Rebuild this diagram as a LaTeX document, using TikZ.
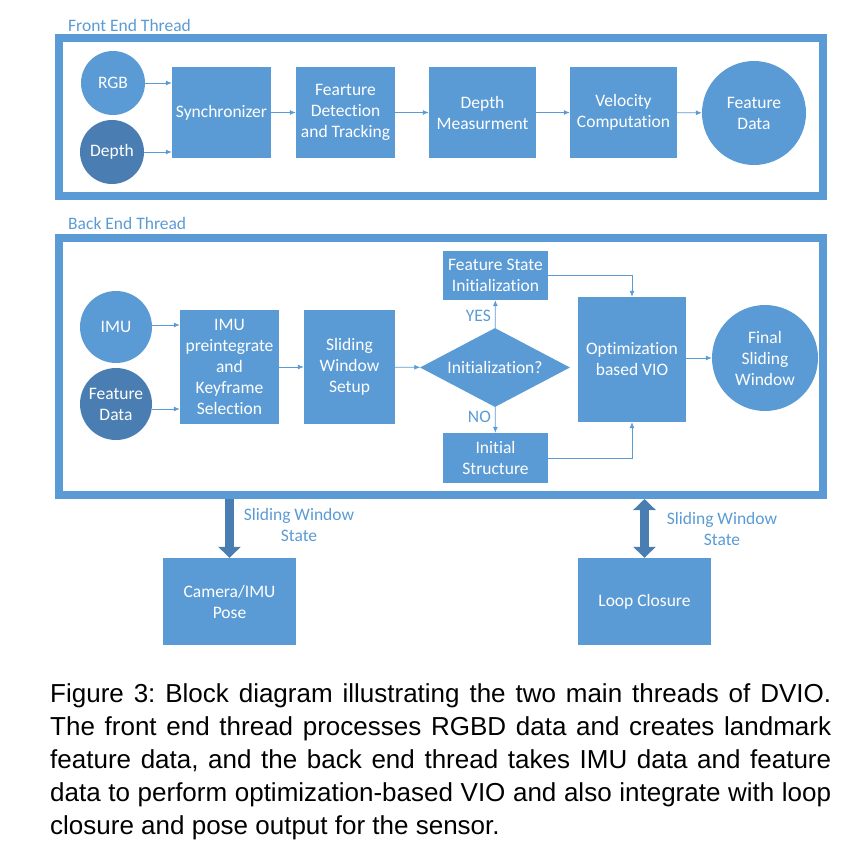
\documentclass[tikz,border=0pt]{standalone}
\usepackage{fontspec}
\setmainfont{Carlito}[Ligatures=NoCommon]
\newfontfamily\capfont{Liberation Sans}
\usetikzlibrary{shapes.geometric,arrows.meta}
\definecolor{boxblue}{HTML}{5B9BD5}
\definecolor{darkblue}{HTML}{4A7EB3}
\newcommand{\capline}[1]{\makebox[781pt][s]{#1}}
\frenchspacing
\begin{document}
\begin{tikzpicture}[x=1pt, y=-1pt,
  blk/.style={fill=boxblue, text=white, align=center, inner sep=0pt, font=\fontsize{17.5}{21}\selectfont},
  dot/.style={blk, circle},
  dkdot/.style={blk, circle, fill=darkblue},
  frame/.style={draw=boxblue, line width=8pt, inner sep=0pt},
  lbl/.style={text=boxblue, inner sep=0pt, font=\fontsize{17.5}{21}\selectfont},
  flow/.style={draw=boxblue, line width=0.8pt, -{Latex[length=6pt,width=5pt]}},
  fat/.style={draw=darkblue, line width=9pt, -{Triangle[width=22pt,length=11pt]}}]
\useasboundingbox (0,0) rectangle (845,857);
% the two thread frames
\node[frame, minimum width=764pt, minimum height=158pt] (front) at (441,117) {};
\node[frame, minimum width=764pt, minimum height=257pt] (back) at (441,366.5) {};
\node[lbl, anchor=west] (frontlbl) at (68,25) {Front End Thread};
\node[lbl, anchor=west] (backlbl) at (68,223) {Back End Thread};
% front end nodes
\node[dot, minimum size=64pt] (rgb) at (113,83) {RGB};
\node[dkdot, minimum size=64pt] (depth) at (112,152) {Depth};
\node[blk, minimum width=99pt, minimum height=91pt] (sync) at (221.5,112.5) {Synchronizer};
\node[blk, minimum width=99pt, minimum height=91pt] (detect) at (345.5,112.5) {Fearture\\Detection\\and Tracking};
\node[blk, minimum width=107pt, minimum height=91pt] (depthm) at (482.5,112.5) {Depth\\Measurment};
\node[blk, minimum width=107pt, minimum height=91pt] (velo) at (623.5,112.5) {Velocity\\Computation};
\node[dot, minimum size=104pt] (featdata) at (754,113) {Feature\\Data};
% front end arrows
\draw[flow] (rgb.east) -- (rgb.east -| sync.west);
\draw[flow] (depth.east) -- (depth.east -| sync.west);
\draw[flow] (sync) -- (detect);
\draw[flow] (detect) -- (depthm);
\draw[flow] (depthm) -- (velo);
\draw[flow] (velo) -- (featdata);
% back end nodes
\node[dot, minimum size=72pt] (imu) at (116,327) {IMU};
\node[dkdot, minimum size=72pt] (featin) at (116,404) {Feature\\Data};
\node[blk, minimum width=99pt, minimum height=114pt] (preint) at (229.5,367) {IMU\\preintegrate\\and\\Keyframe\\Selection};
\node[blk, minimum width=91pt, minimum height=114pt] (swsetup) at (349.5,367) {Sliding\\Window\\Setup};
\node[blk, diamond, aspect=1.9, minimum width=150pt, minimum height=79pt] (init) at (495,367.5) {Initialization?};
\node[blk, minimum width=105pt, minimum height=49pt] (fsinit) at (495.5,275.5) {Feature State\\Initialization};
\node[blk, minimum width=105pt, minimum height=50pt] (initstruct) at (495.5,458) {Initial\\Structure};
\node[blk, minimum width=108pt, minimum height=125pt] (optvio) at (632,359.5) {Optimization\\based VIO};
\node[dot, minimum size=106pt] (finalsw) at (765,358) {Final\\Sliding\\Window};
% back end arrows
\draw[flow] (imu.east |- 0,325) -- (preint.west |- 0,325);
\draw[flow] (featin.east |- 0,409) -- (preint.west |- 0,409);
\draw[flow] (preint) -- (swsetup);
\draw[flow] (swsetup) -- (init);
\draw[flow] (init) -- node[lbl, pos=0.45, left=4pt] {YES} (fsinit);
\draw[flow] (init) -- node[lbl, pos=0.4, left=4pt] {NO} (initstruct);
\draw[flow] (fsinit.east) -| (optvio.north);
\draw[flow] (initstruct.east) -| (optvio.south);
\draw[flow] (optvio.east |- finalsw.west) -- (finalsw.west);
% outputs
\node[blk, minimum width=133pt, minimum height=87pt] (campose) at (229.5,601.5) {Camera/IMU\\Pose};
\node[blk, minimum width=133pt, minimum height=87pt] (loopcl) at (644.5,601.5) {Loop Closure};
\draw[fat] (campose.north |- back.south) -- (campose.north);
\draw[fat, {Triangle[width=22pt,length=11pt]}-{Triangle[width=22pt,length=11pt]}] (loopcl.north |- back.south) -- (loopcl.north);
\node[lbl, align=center] (poselbl) at (299,524.5) {Sliding Window\\State};
\node[lbl, align=center] (looplbl) at (722,528.5) {Sliding Window\\State};
% caption
\node[anchor=north west, inner sep=0pt, align=left, font=\capfont\fontsize{26}{33}\selectfont] (caption) at (50,683) {\capline{Figure 3: Block diagram illustrating the two main threads of DVIO.}\\ \capline{The front end thread processes RGBD data and creates landmark}\\ \capline{feature data, and the back end thread takes IMU data and feature}\\ \capline{data to perform optimization-based VIO and also integrate with loop}\\ closure and pose output for the sensor.};
\end{tikzpicture}
\end{document}
